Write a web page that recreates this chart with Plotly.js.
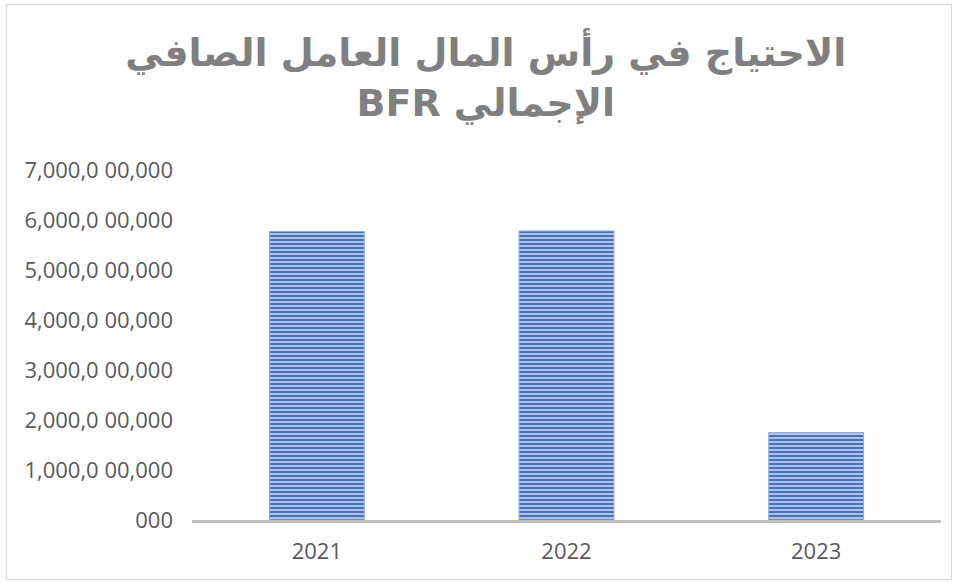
<!DOCTYPE html>
<html>
<head>
<meta charset="utf-8">
<script src="https://cdn.plot.ly/plotly-3.0.1.min.js"></script>
<style>
  html, body { margin: 0; padding: 0; background: #fff; }
  #wrap { position: relative; width: 960px; height: 583px; }
  #chart { width: 960px; height: 583px; }
  #frame { position: absolute; left: 6px; top: 4px; width: 946px; height: 576px;
           border: 1px solid #d9d9d9; pointer-events: none; box-sizing: border-box; }
</style>
</head>
<body>
<div id="wrap">
  <div id="chart"></div>
  <div id="frame"></div>
</div>
<script>
const categories = ["2021", "2022", "2023"];
const values = [5770000000, 5780000000, 1750000000];
const tickValues = [0, 1e9, 2e9, 3e9, 4e9, 5e9, 6e9, 7e9];
const tickLabels = ["000", "1,000,0 00,000", "2,000,0 00,000", "3,000,0 00,000",
                    "4,000,0 00,000", "5,000,0 00,000", "6,000,0 00,000", "7,000,0 00,000"];
const titleLine1 = "الاحتياج في رأس المال العامل الصافي";
const titleLine2 = "\u202Bالإجمالي BFR\u202C";

const trace = {
  type: "bar",
  x: categories,
  y: values,
  width: 0.38,
  marker: {
    color: "#4472c4",
    line: { color: "#8eaadb", width: 1 },
    pattern: { shape: "-", fgcolor: "#4472c4", bgcolor: "#bccdeb", size: 4, solidity: 0.55 }
  },
  hoverinfo: "none"
};

const layout = {
  width: 960, height: 583,
  margin: { l: 192, r: 19, t: 170, b: 63 },
  paper_bgcolor: "#ffffff",
  plot_bgcolor: "#ffffff",
  showlegend: false,
  title: {
    text: titleLine1 + "<br>" + titleLine2,
    font: { family: "DejaVu Sans", size: 38, color: "#808080", weight: "bold" },
    x: 0.506, xanchor: "center", xref: "container",
    y: 0.886, yanchor: "top", yref: "container"
  },
  xaxis: {
    type: "category",
    range: [-0.5, 2.5],
    showline: true, linecolor: "#c0c0c0", linewidth: 3,
    showgrid: false, zeroline: false,
    ticks: "", ticklabelstandoff: 10,
    tickfont: { family: "Open Sans", size: 22, color: "#595959" }
  },
  yaxis: {
    range: [0, 7e9],
    tickmode: "array", tickvals: tickValues, ticktext: tickLabels,
    showline: false, showgrid: false, zeroline: false,
    ticks: "", ticklabelstandoff: 18,
    tickfont: { family: "Open Sans", size: 22, color: "#595959" }
  }
};

Plotly.newPlot("chart", [trace], layout, { displayModeBar: false, staticPlot: true });
</script>
</body>
</html>
